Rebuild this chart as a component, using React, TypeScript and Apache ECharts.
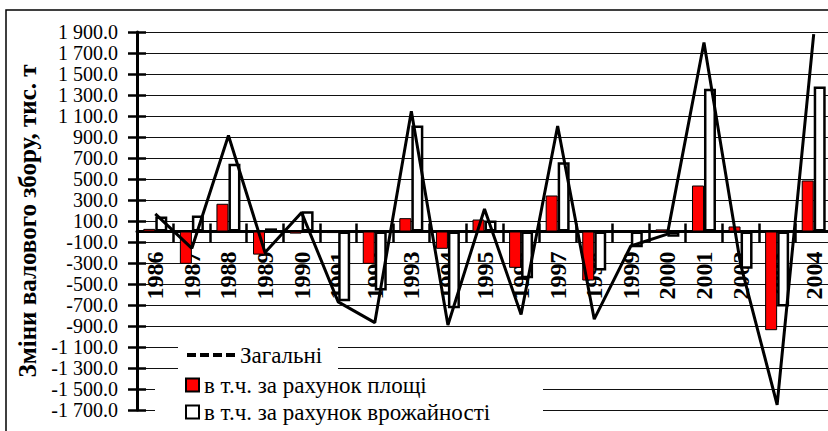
import React, { useEffect, useRef } from "react";
import * as echarts from "echarts";

const years = ["1986", "1987", "1988", "1989", "1990", "1991", "1992", "1993", "1994", "1995", "1996", "1997", "1998", "1999", "2000", "2001", "2002", "2003", "2004"];
const areaChange = [25, -308, 264, -220, -20, -15, -308, 127, -165, 114, -346, 343, -467, 10, 20, 438, 48, -940, 486];
const yieldChange = [143, 152, 645, 30, 193, -664, -562, 1010, -730, 105, -445, 660, -371, -150, -50, 1359, -355, -714, 1381];
const totalChange = [168, -160, 914, -200, 180, -670, -868, 1146, -890, 215, -790, 1005, -835, -138, -25, 1800, -310, -1650, 1880];

const yMin = -1700;
const yMax = 1900;
const yStep = 200;

const nameTotal = "Загальні";
const nameArea = "в т.ч. за рахунок площі";
const nameYield = "в т.ч. за рахунок врожайності";
const yTitle = "Зміни валового збору, тис. т";

const SERIF = "Liberation Serif";

function fmt(v: number): string {
  const s = Math.abs(v).toFixed(1);
  const [i, d] = s.split(".");
  const ii = i.replace(/\B(?=(\d{3})+(?!\d))/g, " ");
  return (v < 0 ? "-" : "") + ii + "." + d;
}

export default function App() {
  const ref = useRef<HTMLDivElement>(null);
  useEffect(() => {
    if (!ref.current) return;
    const chart = echarts.init(ref.current, undefined, { renderer: "svg" });
    const gridLeft = 137;
    const gridTop = 32;
    const gridW = 695;
    const gridH = 378;
    // distance from the grid bottom up to the zero line
    const zeroOffset = -(gridH * (0 - yMin)) / (yMax - yMin);
    chart.setOption({
      animation: false,
      backgroundColor: "#fff",
      grid: {
        left: gridLeft,
        top: gridTop,
        width: gridW,
        height: gridH,
        containLabel: false,
        outerBoundsMode: "none",
      },
      xAxis: [
        {
          type: "category",
          data: years,
          position: "bottom",
          offset: zeroOffset,
          boundaryGap: true,
          axisLine: { show: true, onZero: false, lineStyle: { color: "#000", width: 3 } },
          axisTick: { show: true, length: 11, inside: false, lineStyle: { color: "#000", width: 2.5 } },
          axisLabel: {
            interval: 0,
            rotate: 90,
            margin: 20,
            color: "#000",
            fontFamily: SERIF,
            fontWeight: "bold",
            fontSize: 24,
            lineHeight: 18,
          },
          splitLine: { show: false },
        },
        {
          type: "category",
          data: years,
          position: "bottom",
          offset: zeroOffset,
          boundaryGap: true,
          axisLine: { show: false, onZero: false },
          axisTick: { show: true, length: 8, inside: true, lineStyle: { color: "#000", width: 2.5 } },
          axisLabel: { show: false },
          splitLine: { show: false },
        },
      ],
      yAxis: [
        {
          type: "value",
          min: yMin,
          max: yMax,
          interval: yStep,
          position: "left",
          name: yTitle,
          nameLocation: "middle",
          nameGap: 95,
          nameRotate: 90,
          nameTextStyle: { color: "#000", fontFamily: SERIF, fontWeight: "bold", fontSize: 25 },
          axisLine: { show: true, onZero: false, lineStyle: { color: "#000", width: 3 } },
          axisTick: { show: true, length: 9, inside: false, lineStyle: { color: "#000", width: 2.5 } },
          axisLabel: {
            formatter: (v: number) => fmt(v),
            color: "#000",
            fontFamily: SERIF,
            fontSize: 20,
            lineHeight: 20,
            margin: 19,
          },
          splitLine: { show: true, lineStyle: { color: "#111", width: 1 } },
        },
        {
          type: "value",
          min: yMin,
          max: yMax,
          interval: yStep,
          position: "left",
          axisLine: { show: false, onZero: false },
          axisTick: { show: true, length: 9, inside: true, lineStyle: { color: "#000", width: 2.5 } },
          axisLabel: { show: false },
          splitLine: { show: false },
        },
      ],
      legend: [
        {
          data: [
            {
              name: nameTotal,
              icon: "path://M0,0h9v4h-9z M13,0h9v4h-9z M26,0h9v4h-9z M39,0h9v4h-9z",
            },
          ],
          left: 187,
          top: 343,
          padding: 0,
          itemWidth: 48,
          itemHeight: 4,
          itemStyle: { color: "#000" },
          textStyle: { color: "#000", fontFamily: SERIF, fontSize: 23, lineHeight: 24 },
        },
        {
          data: [
            { name: nameArea, icon: "rect" },
            { name: nameYield, icon: "rect" },
          ],
          orient: "vertical",
          left: 185,
          top: 373,
          padding: 0,
          itemGap: 3,
          itemWidth: 13,
          itemHeight: 13,
          textStyle: { color: "#000", fontFamily: SERIF, fontSize: 23, lineHeight: 24 },
        },
      ],
      graphic: [
        {
          type: "rect",
          z: 1,
          shape: { x: 6, y: 10, width: 900, height: 600 },
          style: { fill: "none", stroke: "#000", lineWidth: 1.5 },
        },
        {
          type: "rect",
          z: 1,
          shape: { x: 178, y: 340, width: 160, height: 32 },
          style: { fill: "#fff" },
        },
        {
          type: "rect",
          z: 1,
          shape: { x: 155, y: 376, width: 388, height: 60 },
          style: { fill: "#fff" },
        },
      ],
      series: [
        {
          name: nameArea,
          type: "bar",
          xAxisIndex: 0,
          yAxisIndex: 0,
          data: areaChange,
          barWidth: 12,
          barGap: "0%",
          itemStyle: { color: "#ff0000", borderColor: "#000", borderWidth: 1 },
        },
        {
          name: nameYield,
          type: "bar",
          xAxisIndex: 0,
          yAxisIndex: 0,
          data: yieldChange,
          barWidth: 12,
          barGap: "0%",
          itemStyle: { color: "#fff", borderColor: "#000", borderWidth: 2.5 },
        },
        {
          name: nameTotal,
          type: "line",
          xAxisIndex: 0,
          yAxisIndex: 0,
          data: totalChange,
          symbol: "none",
          lineStyle: { color: "#000", width: 3 },
          itemStyle: { color: "#000" },
        },
      ],
    });
    return () => chart.dispose();
  }, []);
  return <div ref={ref} style={{ position: "fixed", left: 0, top: 0, width: 828, height: 431 }} />;
}
